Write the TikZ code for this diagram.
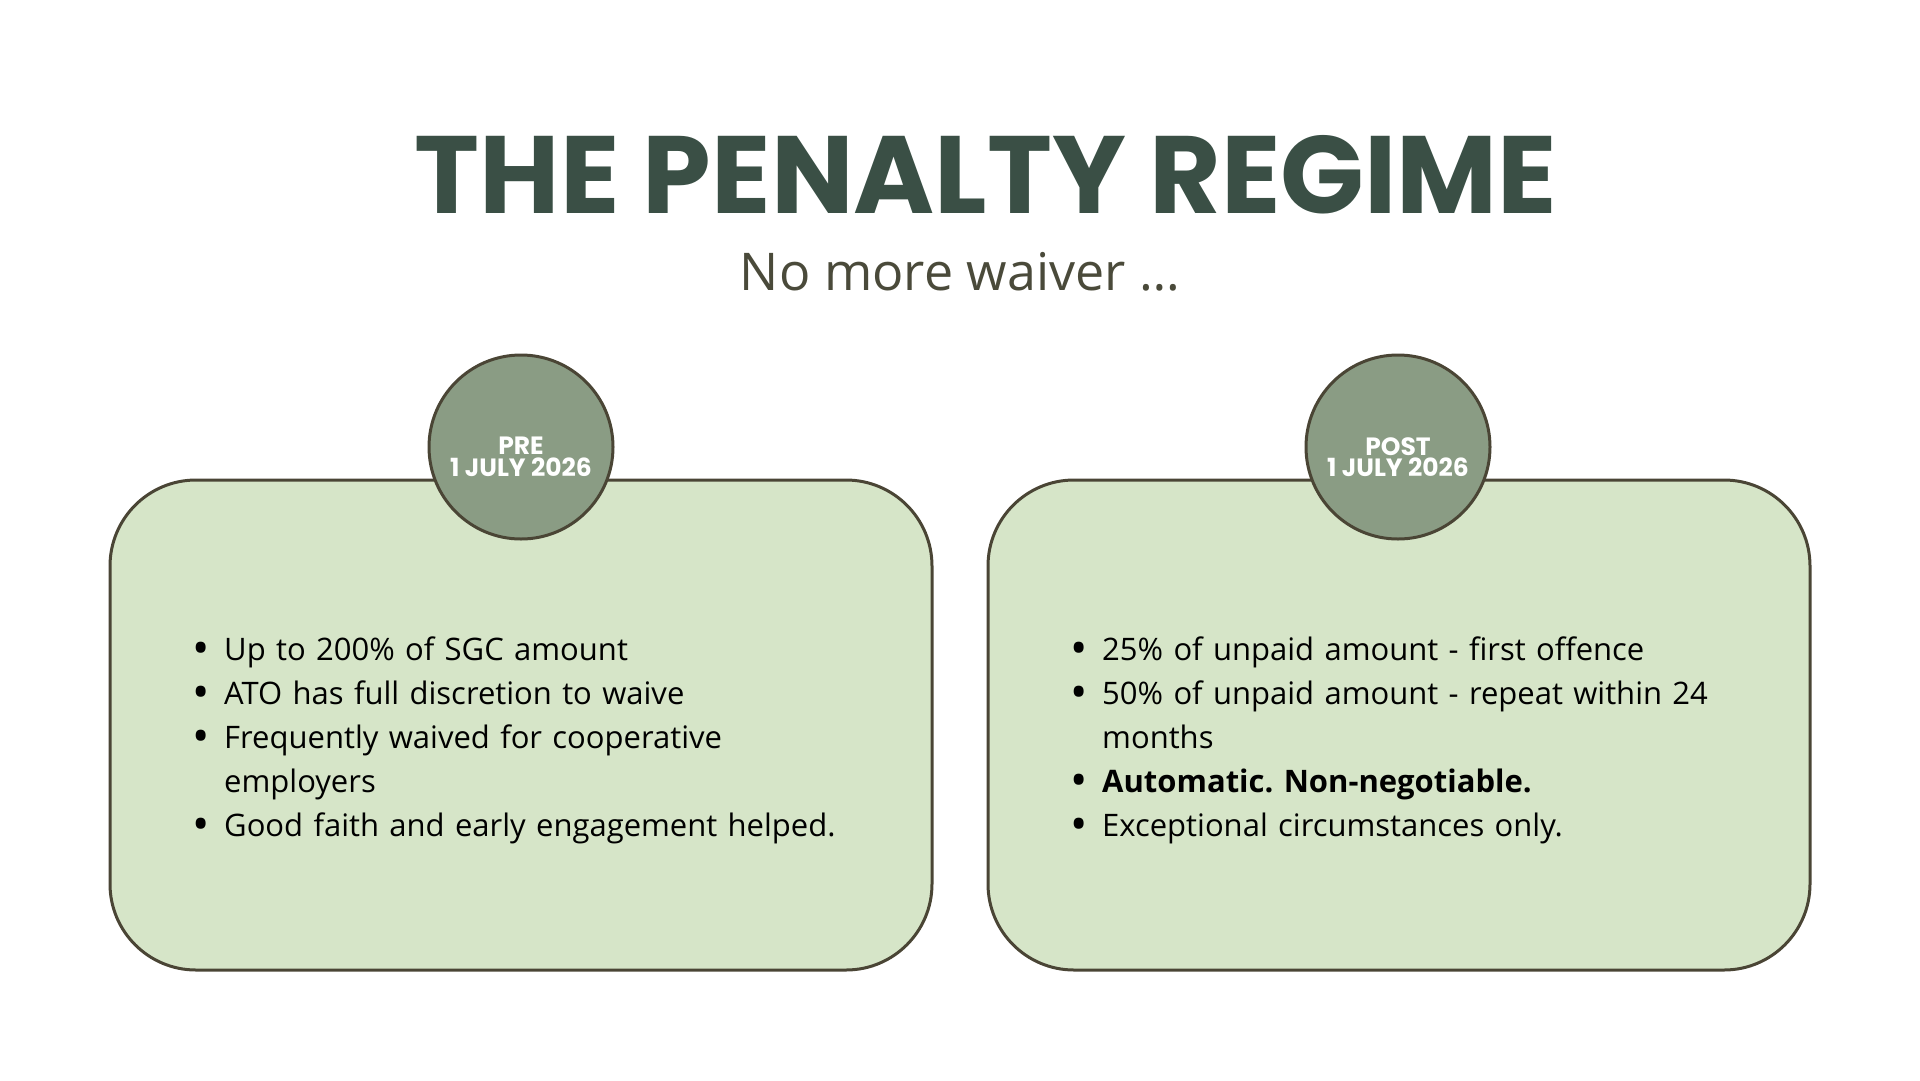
\documentclass[tikz,border=0pt]{standalone}
\usepackage{fontspec}
\setmainfont{Open Sans}
\newfontfamily\poppins{Poppins}
\usepackage{enumitem}
\definecolor{titlegreen}{HTML}{3A4F45}
\definecolor{subgrey}{HTML}{4A4A3A}
\definecolor{boxfill}{HTML}{D6E5C8}
\definecolor{boxline}{HTML}{4A4535}
\definecolor{discfill}{HTML}{8A9C84}
\newcommand{\bigdot}{\raisebox{-4pt}{\fontsize{46}{46}\selectfont\textbullet}}
\begin{document}
\frenchspacing
\begin{tikzpicture}[x=1pt,y=-1pt]
  \tikzset{
    panel/.style={draw=boxline,line width=3pt,fill=boxfill,rounded corners=86pt},
    disc/.style={circle,draw=boxline,line width=3pt,fill=discfill,minimum size=184pt,inner sep=0pt},
    disctext/.style={align=center,text=white,inner sep=0pt,
      font=\poppins\bfseries\fontsize{25}{21.5}\selectfont},
    points/.style={anchor=north west,inner sep=0pt,text width=700pt,
      font=\fontsize{31}{44}\selectfont}
  }
  \useasboundingbox (0,0) rectangle (1920,1080);

  % Heading
  \node[font=\poppins\bfseries\fontsize{110}{110}\selectfont,text=titlegreen] (title) at (986,175) {THE PENALTY REGIME};
  \node[font=\fontsize{52}{52}\selectfont,text=subgrey] (subtitle) at (960,272) {No more waiver \dots};

  % Left panel
  \draw[panel] (110,480) rectangle (932,970);
  \node[disc] (pre) at (521,447) {};
  \node[disctext] (pretext) at ([yshift=-10pt]pre.center) {PRE\\1 JULY 2026};
  \node[points] (prelist) at (180,616) {%
    \begin{itemize}[leftmargin=44pt,labelsep=14pt,itemsep=0pt,topsep=0pt,parsep=0pt,label=\bigdot]
      \item Up to 200\% of SGC amount
      \item ATO has full discretion to waive
      \item Frequently waived for cooperative\\employers
      \item Good faith and early engagement helped.
    \end{itemize}};

  % Right panel
  \draw[panel] (988,480) rectangle (1810,970);
  \node[disc] (post) at (1398,447) {};
  \node[disctext] (posttext) at ([yshift=-10pt]post.center) {POST\\1 JULY 2026};
  \node[points] (postlist) at (1058,616) {%
    \begin{itemize}[leftmargin=44pt,labelsep=14pt,itemsep=0pt,topsep=0pt,parsep=0pt,label=\bigdot]
      \item 25\% of unpaid amount - first offence
      \item 50\% of unpaid amount - repeat within 24\\months
      \item \textbf{Automatic. Non-negotiable.}
      \item Exceptional circumstances only.
    \end{itemize}};
\end{tikzpicture}
\end{document}
